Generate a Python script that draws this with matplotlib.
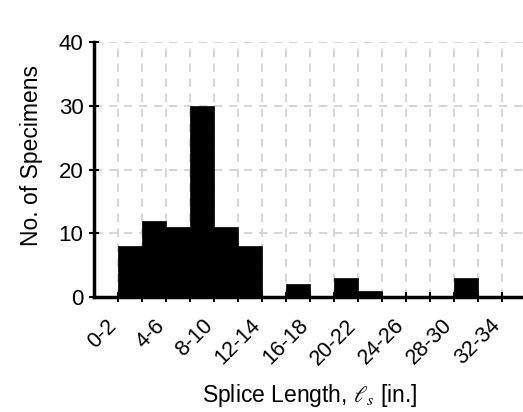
import numpy as np
import matplotlib.pyplot as plt

plt.rcParams['font.family'] = ['Liberation Sans', 'DejaVu Sans']
plt.rcParams['mathtext.fontset'] = 'stix'

# splice length bins (inches) and specimen counts
bin_edges = np.arange(0, 38, 2)
bin_labels = ['%d-%d' % (a, a + 2) for a in bin_edges[:-1]]
counts = [0, 8, 12, 11, 30, 11, 8, 0, 2, 0, 3, 1, 0, 0, 0, 3, 0, 0]

fig = plt.figure(figsize=(5.23, 4.12), dpi=100)
ax = fig.add_axes([0.1797, 0.279, 0.8260, 0.619])

ax.bar(bin_edges[:-1], counts, width=2, align='edge', color='black',
       edgecolor='black', linewidth=0.5, zorder=3)

ax.set_xlim(0, 36)
ax.set_ylim(0, 40)

# bin edges get ticks, bin centres get the labels
ax.set_xticks(bin_edges[1:-1])
ax.set_xticklabels([])
centres = bin_edges[:-1] + 1
ax.set_xticks(centres[::2], minor=True)
ax.set_xticklabels(bin_labels[::2], minor=True, rotation=45,
                   ha='right', rotation_mode='anchor', fontsize=15.5)
ax.tick_params(axis='x', which='minor', length=0, pad=13)
ax.tick_params(axis='x', which='major', direction='inout', length=7, width=1.5)

ax.set_yticks([0, 10, 20, 30, 40])
ax.tick_params(axis='y', direction='inout', length=7, width=1.5,
               labelsize=16, pad=4)

ax.grid(True, which='major', color='#d0d0d0', linestyle=(0, (5, 4)),
        linewidth=1.2, zorder=0)

for side in ['top', 'right']:
    ax.spines[side].set_visible(False)
for side in ['left', 'bottom']:
    ax.spines[side].set_linewidth(2.5)
    ax.spines[side].set_zorder(4)

ax.set_ylabel('No. of Specimens', fontsize=16.5)
ax.yaxis.set_label_coords(-0.118, 0.557, transform=ax.transAxes)
ax.set_xlabel(r'Splice Length, $\ell_s$ [in.]', fontsize=16.5)
ax.xaxis.set_label_coords(0.5, -0.335, transform=ax.transAxes)
ax.xaxis.label.set_va('top')

fig.savefig('out.png', dpi=100)
